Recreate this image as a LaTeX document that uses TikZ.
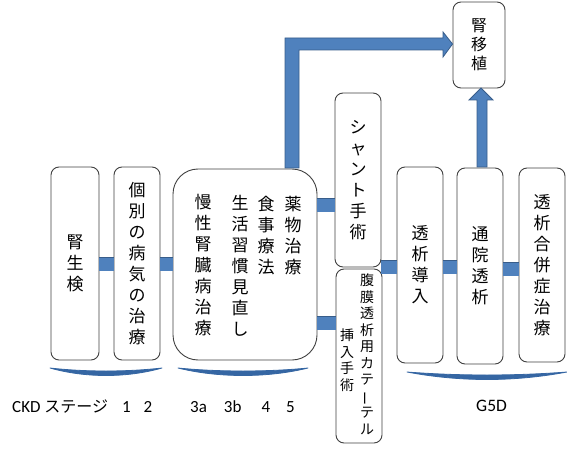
\documentclass[tikz,border=0pt]{standalone}
\usepackage{fontspec}
\usepackage{graphicx}
\setmainfont{Carlito}
\newfontfamily\jp{Noto Sans CJK JP}
\definecolor{bfill}{HTML}{4F81BD}
\definecolor{bline}{HTML}{385D8A}
\definecolor{bracecol}{HTML}{3566A3}
\definecolor{boxline}{HTML}{404040}
\begin{document}
\begin{tikzpicture}[x=1pt,y=-1pt,
  box/.style={draw=boxline, line width=0.9pt, rounded corners=8pt, fill=white,
    inner sep=0pt, align=center, font=\jp\fontsize{17}{21}\selectfont},
  vtext/.style={inner sep=0pt, align=center, font=\jp\fontsize{17}{21}\selectfont},
  stext/.style={inner sep=0pt, align=center, font=\jp\fontsize{14}{16.5}\selectfont},
  conn/.style={draw=bline, line width=0.8pt, double=bfill, double distance=13pt},
  blockarrow/.style={fill=bfill, draw=bline, line width=0.8pt, line join=miter},
  bracestyle/.style={fill=bracecol, draw=bracecol, line width=0.8pt, line join=round},
  lbl/.style={inner sep=0pt, anchor=base west, font=\fontsize{17}{17}\selectfont}
  ]
\useasboundingbox (0,0) rectangle (567,449);
% boxes
\node[box, minimum width=48pt, minimum height=193pt] (biopsy) at (75,263.5) {腎\\生\\検};
\node[box, minimum width=46pt, minimum height=193pt] (indiv) at (137,263.5) {個\\別\\の\\病\\気\\の\\治\\療};
\node[box, rounded corners=25pt, minimum width=144pt, minimum height=191pt] (big) at (245,264.5) {};
\node[vtext] (t1) at (203,265.5) {慢\\性\\腎\\臓\\病\\治\\療};
\node[vtext] (t2) at (240,266) {生\\活\\習\\慣\\見\\直\\し};
\node[vtext] (t3) at (266,236) {食\\事\\療\\法};
\node[vtext] (t4) at (293,236) {薬\\物\\治\\療};
\node[box, minimum width=46pt, minimum height=174pt] (shunt) at (358,180) {シ\\ャ\\ン\\ト\\手\\術};
\node[box, minimum width=46pt, minimum height=174pt] (pd) at (359,356) {};
\node[stext] (p1) at (367,354.5) {腹\\膜\\透\\析\\用\\カ\\テ\\\rotatebox[origin=c]{90}{ー}\\テ\\ル};
\node[stext] (p2) at (347,360) {挿\\入\\手\\術};
\node[box, minimum width=46pt, minimum height=196pt] (dintro) at (420,265) {透\\析\\導\\入};
\node[box, minimum width=46pt, minimum height=196pt] (outpt) at (480,266) {通\\院\\透\\析};
\node[box, minimum width=46pt, minimum height=194pt] (comp) at (542,265) {透\\析\\合\\併\\症\\治\\療};
\node[box, minimum width=52pt, minimum height=86pt, font=\jp\fontsize{16}{19}\selectfont] (kid) at (479,45) {腎\\移\\植};
% connectors
\coordinate (r1) at (0,264);
\coordinate (r2) at (0,205);
\coordinate (r3) at (0,323);
\coordinate (r4) at (0,267);
\coordinate (r5) at (0,269);
\coordinate (r6) at (0,44);
\draw[conn] (biopsy.east |- r1) -- (indiv.west |- r1);
\draw[conn] (indiv.east |- r1) -- (big.west |- r1);
\draw[conn] (big.east |- r2) -- (shunt.west |- r2);
\draw[conn] (big.east |- r3) -- (pd.west |- r3);
\draw[conn] (shunt.east |- r4) -- (dintro.west |- r4);
\draw[conn] (dintro.east |- r4) -- (outpt.west |- r4);
\draw[conn] (outpt.east |- r5) -- (comp.west |- r5);
% block arrows
\coordinate (tipA) at (kid.west |- r6);
\draw[blockarrow] (285,168) -- (285,38) -- (443,38) -- (443,32) -- (tipA) -- (443,57) -- (443,50) -- (299,50) -- (299,168) -- cycle;
\coordinate (tipB) at (481,88);
\draw[blockarrow] (477,167) -- (477,100) -- (469,100) -- (tipB) -- (493,100) -- (487,100) -- (487,167) -- cycle;
% braces
\draw[bracestyle] (50,368) .. controls (85,372) and (127,372) .. (162,368) .. controls (127,378) and (85,378) .. (50,368) -- cycle;
\draw[bracestyle] (178,368) .. controls (218,372) and (268,372) .. (308,368) .. controls (268,378) and (218,378) .. (178,368) -- cycle;
\draw[bracestyle] (407,372) .. controls (460,376) and (514,376) .. (567,372) .. controls (514,382) and (460,382) .. (407,372) -- cycle;
% labels
\node[lbl] (l1) at (12,412) {CKD {\jp\fontsize{16}{16}\selectfont ステージ}\hspace{14pt}1\hspace{13pt}2};
\node[lbl] (l2) at (190,412) {3a\hspace{17pt}3b\hspace{20pt}4\hspace{16pt}5};
\node[lbl, font=\fontsize{17.5}{17.5}\selectfont] (l3) at (476,411) {G5D};
\end{tikzpicture}
\end{document}
